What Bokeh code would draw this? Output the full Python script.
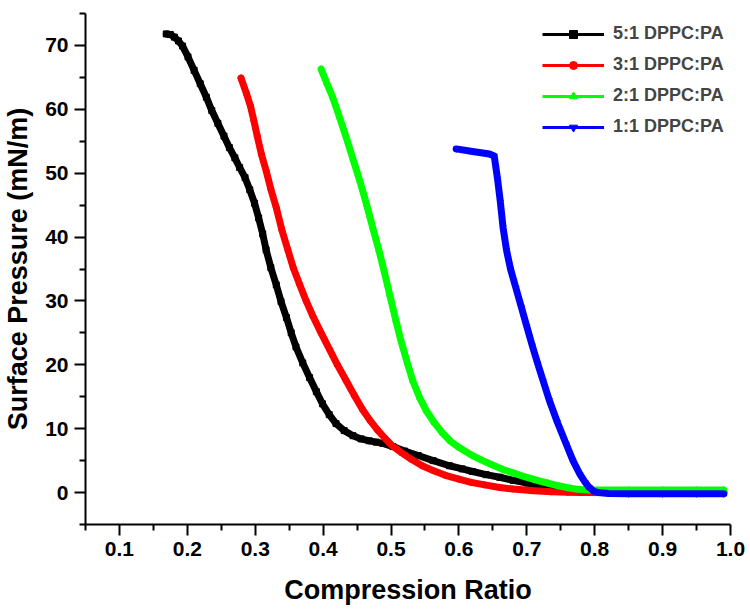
from bokeh.plotting import figure
from bokeh.models import Range1d, FixedTicker, Legend, LegendItem
from bokeh.embed import file_html
from bokeh.resources import INLINE

# ---- data ----
x_51 = [0.169, 0.175, 0.181, 0.187, 0.193, 0.201, 0.21, 0.219, 0.228, 0.236, 0.245, 0.254,
        0.262, 0.270, 0.277, 0.285, 0.292, 0.299, 0.305, 0.311, 0.316, 0.323, 0.331, 0.338,
        0.346, 0.353, 0.360, 0.370, 0.380, 0.390, 0.399, 0.409, 0.419, 0.431, 0.444, 0.456,
        0.468, 0.478, 0.488, 0.503, 0.52, 0.54, 0.562, 0.586, 0.605, 0.62, 0.64, 0.66,
        0.68, 0.70, 0.718, 0.733, 0.748, 0.762, 0.782, 0.80, 0.85, 0.90, 0.95, 0.99]
y_51 = [71.8, 71.7, 71.3, 70.7, 69.9, 68.2, 66.1, 64.0, 61.9, 59.8, 57.8, 55.8,
        54.0, 52.4, 50.9, 49.3, 47.4, 45.3, 43.0, 40.5, 38.0, 35.2, 32.5, 29.9,
        27.4, 25.0, 22.8, 20.3, 18.0, 15.8, 13.9, 12.2, 10.8, 9.7, 8.9, 8.4,
        8.1, 7.9, 7.7, 7.2, 6.5, 5.8, 5.0, 4.2, 3.7, 3.3, 2.8, 2.4,
        1.9, 1.5, 1.1, 0.8, 0.55, 0.35, 0.12, 0.0, 0.0, 0.0, 0.0, 0.0]

x_31 = [0.279, 0.287, 0.293, 0.298, 0.303, 0.309, 0.316, 0.323, 0.331, 0.339, 0.348, 0.356,
        0.365, 0.375, 0.385, 0.397, 0.409, 0.421, 0.434, 0.446, 0.458, 0.469, 0.480, 0.491,
        0.502, 0.516, 0.53, 0.546, 0.563, 0.58, 0.60, 0.618, 0.638, 0.66, 0.68, 0.71,
        0.737, 0.76, 0.78, 0.80, 0.85, 0.90, 0.95, 0.99]
y_31 = [64.9, 62.5, 60.5, 58.2, 55.8, 53.0, 50.4, 47.5, 44.6, 41.2, 38.0, 35.2,
        32.7, 30.0, 27.6, 25.0, 22.5, 20.0, 17.5, 15.2, 13.0, 11.3, 9.8, 8.5,
        7.3, 6.2, 5.2, 4.2, 3.4, 2.7, 2.1, 1.6, 1.2, 0.8, 0.55, 0.3,
        0.12, 0.05, 0.0, 0.0, 0.0, 0.0, 0.0, 0.0]

x_21 = [0.397, 0.405, 0.414, 0.424, 0.434, 0.444, 0.454, 0.464, 0.473, 0.482, 0.490, 0.498,
        0.507, 0.515, 0.524, 0.532, 0.542, 0.552, 0.564, 0.576, 0.588, 0.601, 0.618, 0.635,
        0.65, 0.665, 0.682, 0.699, 0.715, 0.73, 0.745, 0.758, 0.775, 0.792, 0.85, 0.90,
        0.95, 0.99]
y_21 = [66.3, 64.2, 61.9, 58.8, 55.6, 52.2, 48.8, 45.1, 41.5, 38.0, 34.6, 31.0,
        27.0, 23.6, 20.3, 17.5, 14.9, 12.8, 10.9, 9.3, 8.0, 7.0, 5.9, 5.0,
        4.3, 3.6, 3.0, 2.4, 1.9, 1.5, 1.1, 0.8, 0.5, 0.4, 0.4, 0.4,
        0.4, 0.4]

x_11 = [0.596, 0.62, 0.645, 0.652, 0.657, 0.661, 0.665, 0.670, 0.676, 0.684, 0.692, 0.700,
        0.708, 0.716, 0.724, 0.733, 0.745, 0.758, 0.768, 0.778, 0.786, 0.792, 0.798, 0.805,
        0.82, 0.85, 0.90, 0.95, 0.99]
y_11 = [53.8, 53.4, 53.0, 52.7, 49.0, 45.5, 41.5, 38.0, 35.0, 32.0, 29.0, 26.0,
        23.0, 20.2, 17.5, 14.5, 11.0, 7.6, 5.0, 2.9, 1.6, 0.8, 0.25, 0.0,
        -0.15, -0.2, -0.2, -0.2, -0.2]

labels = ["5:1 DPPC:PA", "3:1 DPPC:PA", "2:1 DPPC:PA", "1:1 DPPC:PA"]
colors = ["#000000", "#ff0000", "#00ff00", "#0000ff"]
markers = ["square", "circle", "triangle", "inverted_triangle"]
series = [(x_51, y_51), (x_31, y_31), (x_21, y_21), (x_11, y_11)]

x_major = [0.1, 0.2, 0.3, 0.4, 0.5, 0.6, 0.7, 0.8, 0.9, 1.0]
x_minor = [0.05, 0.15, 0.25, 0.35, 0.45, 0.55, 0.65, 0.75, 0.85, 0.95]
y_major = [0, 10, 20, 30, 40, 50, 60, 70]
y_minor = [-5, 5, 15, 25, 35, 45, 55, 65, 75]

FONT = "Liberation Sans"

p = figure(frame_width=645, frame_height=511, output_backend="svg", toolbar_location=None,
           x_range=Range1d(0.05, 1.0), y_range=Range1d(-5, 75),
           min_border_left=84, min_border_right=18, min_border_top=13, min_border_bottom=5)
p.outline_line_color = None
p.xgrid.visible = False
p.ygrid.visible = False
p.background_fill_color = "white"

items = []
for (xs, ys), lab, col, mk in zip(series, labels, colors, markers):
    thin = p.line(xs, ys, line_color=col, line_width=3)
    sc = p.scatter(xs, ys, marker=mk, size=6, fill_color=col, line_color=col)
    items.append(LegendItem(label=lab, renderers=[thin, sc]))
for (xs, ys), col in zip(series, colors):
    p.line(xs, ys, line_color=col, line_width=7, line_join="round", line_cap="round")

legend = Legend(items=items, location=(452, 382), padding=5, margin=0, spacing=10,
                glyph_width=62, glyph_height=20, label_height=20, label_standoff=9,
                label_text_font=FONT, label_text_font_size="18px", label_text_font_style="bold",
                border_line_alpha=0, background_fill_alpha=0)
p.add_layout(legend)

for ax in (p.xaxis[0], p.yaxis[0]):
    ax.axis_line_width = 2
    ax.major_tick_line_width = 2
    ax.minor_tick_line_width = 2
    ax.major_tick_in = 0
    ax.minor_tick_in = 0
    ax.major_tick_out = 11
    ax.minor_tick_out = 6
    ax.major_label_text_font = FONT
    ax.major_label_text_font_style = "bold"
    ax.major_label_text_color = "black"
    ax.axis_label_text_font = FONT
    ax.axis_label_text_font_style = "bold"
    ax.axis_label_text_font_size = "27px"
    ax.axis_label_text_color = "black"

p.xaxis[0].ticker = FixedTicker(ticks=x_major, minor_ticks=x_minor)
p.yaxis[0].ticker = FixedTicker(ticks=y_major, minor_ticks=y_minor)
p.xaxis[0].major_label_overrides = {v: f"{v:.1f}" for v in x_major}
p.xaxis[0].major_label_text_font_size = "21px"
p.yaxis[0].major_label_text_font_size = "21px"
p.xaxis[0].major_label_standoff = 6
p.yaxis[0].major_label_standoff = 6
p.xaxis[0].axis_label = "Compression Ratio"
p.yaxis[0].axis_label = "Surface Pressure (mN/m)"
p.xaxis[0].axis_label_standoff = 16
p.yaxis[0].axis_label_standoff = 9

open("out.html", "w").write(file_html(p, INLINE))
